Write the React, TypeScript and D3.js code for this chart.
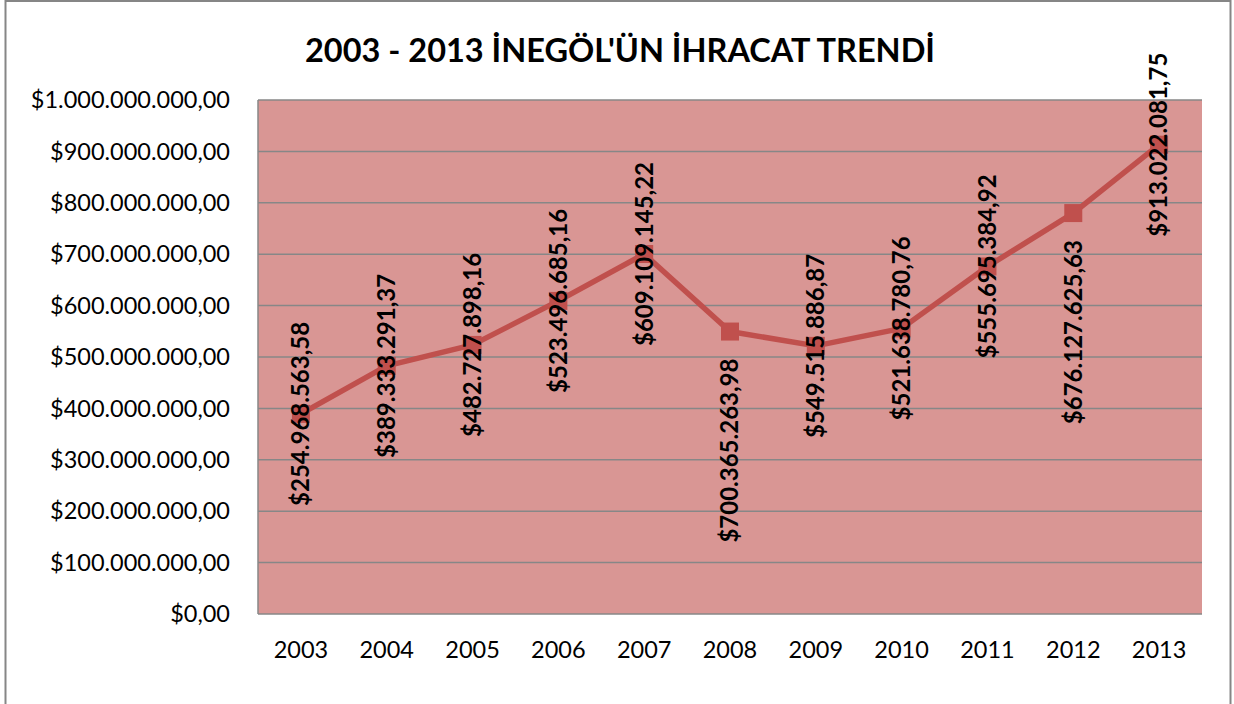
import React from "react";
import * as d3 from "d3";

const title = "2003 - 2013 İNEGÖL'ÜN İHRACAT TRENDİ";
const years = ["2003", "2004", "2005", "2006", "2007", "2008", "2009", "2010", "2011", "2012", "2013"];
const exportValues = [
  389333291.37, 482727898.16, 523496685.16, 609109145.22, 700365263.98, 549515886.87,
  521638780.76, 555695384.92, 676127625.63, 780000000, 913022081.75,
];
const dataLabels = [
  "$254.968.563,58", "$389.333.291,37", "$482.727.898,16", "$523.496.685,16", "$609.109.145,22",
  "$700.365.263,98", "$549.515.886,87", "$521.638.780,76", "$555.695.384,92", "$676.127.625,63",
  "$913.022.081,75",
];
const labelPlacement = ["center", "center", "center", "center", "center", "below", "center", "center", "center", "below", "center"];
const yTicks = [0, 1e8, 2e8, 3e8, 4e8, 5e8, 6e8, 7e8, 8e8, 9e8, 1e9];

const W = 1234;
const H = 704;
const plot = { left: 258, right: 1202, top: 100, bottom: 614 };
const FONT = "Lato, 'Open Sans', sans-serif";
const LINE = "#C0504D";

const locale = d3.formatLocale({ decimal: ",", thousands: ".", grouping: [3], currency: ["$", ""] });
const fmt = locale.format("$,.2f");

export default function App() {
  const x = d3.scaleBand<string>().domain(years).range([plot.left, plot.right]).padding(0);
  const y = d3.scaleLinear().domain([0, 1e9]).range([plot.bottom, plot.top]);
  const cx = (yr: string) => (x(yr) as number) + x.bandwidth() / 2;
  const line = d3
    .line<number>()
    .x((_, i) => cx(years[i]))
    .y((d) => y(d));
  const ms = 18;

  return (
    <svg
      width={W}
      height={H}
      viewBox={`0 0 ${W} ${H}`}
      style={{ position: "absolute", left: 0, top: 0, background: "#fff" }}
    >
      <rect x={5.5} y={1} width={1225} height={H + 10} fill="#fff" stroke="#868686" strokeWidth={2} />
      <text
        x={620}
        y={62}
        textAnchor="middle"
        fontFamily={FONT}
        fontWeight="bold"
        fontSize={32.5}
        fill="#000"
      >
        {title}
      </text>
      <rect x={plot.left} y={plot.top} width={plot.right - plot.left} height={plot.bottom - plot.top} fill="#D99694" />
      {yTicks.map((t) => (
        <line key={t} x1={plot.left} x2={plot.right} y1={y(t)} y2={y(t)} stroke="#878787" strokeWidth={1.5} />
      ))}
      <line x1={plot.left} x2={plot.left} y1={plot.top} y2={plot.bottom} stroke="#878787" strokeWidth={1.5} />
      {yTicks.map((t) => (
        <text
          key={"l" + t}
          x={230}
          y={y(t)}
          dy="0.35em"
          textAnchor="end"
          fontFamily={FONT}
          fontSize={23.5}
          fill="#000"
        >
          {fmt(t)}
        </text>
      ))}
      {years.map((yr) => (
        <text key={yr} x={cx(yr)} y={658} textAnchor="middle" fontFamily={FONT} fontSize={23.5} fill="#000">
          {yr}
        </text>
      ))}
      <path d={line(exportValues) || ""} fill="none" stroke={LINE} strokeWidth={5.5} strokeLinejoin="round" />
      {exportValues.map((v, i) => (
        <rect key={i} x={cx(years[i]) - ms / 2} y={y(v) - ms / 2} width={ms} height={ms} fill={LINE} />
      ))}
      {exportValues.map((v, i) => {
        const px = cx(years[i]);
        const py = y(v);
        const below = labelPlacement[i] === "below";
        const ly = below ? py + 27 : py;
        return (
          <text
            key={"d" + i}
            transform={`translate(${px},${ly}) rotate(-90)`}
            dy="0.35em"
            textAnchor={below ? "end" : "middle"}
            fontFamily={FONT}
            fontWeight="bold"
            fontSize={24}
            fill="#000"
          >
            {dataLabels[i]}
          </text>
        );
      })}
    </svg>
  );
}
